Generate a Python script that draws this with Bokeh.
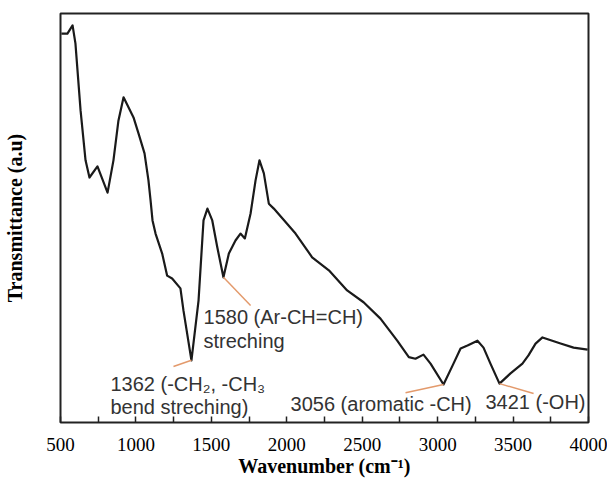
from bokeh.plotting import figure
from bokeh.models import FixedTicker, Label, Range1d
from bokeh.embed import file_html
from bokeh.resources import INLINE

# Spectrum (wavenumber cm^-1, transmittance a.u.)
wavenumber = [506, 546, 580, 599, 633, 666, 692, 745, 812, 851, 884, 918, 984, 1017,
              1057, 1083, 1097, 1110, 1130, 1174, 1207, 1240, 1295, 1315, 1368, 1415,
              1448, 1474, 1506, 1539, 1580, 1616, 1660, 1693, 1722, 1760, 1793, 1819,
              1848, 1881, 1914, 2058, 2168, 2279, 2400, 2509, 2621, 2732, 2809, 2853,
              2906, 2953, 3039, 3105, 3152, 3198, 3264, 3304, 3350, 3410, 3483, 3562,
              3602, 3649, 3695, 3815, 3901, 3994]
transmittance = [95.1, 95.1, 97.1, 92.7, 76.3, 64.1, 59.9, 62.6, 56.2, 64.1, 73.8, 79.5,
                 74.6, 70.7, 65.8, 59.2, 54.3, 49.4, 46.2, 41.3, 35.9, 35.2, 32.8, 27.4,
                 15.2, 29.8, 49.4, 52.3, 49.4, 42.9, 35.5, 41.3, 44.5, 46.2, 45.0, 51.1,
                 59.2, 64.1, 60.9, 53.5, 52.3, 46.2, 40.4, 37.2, 32.3, 29.4, 25.4, 20.0,
                 16.0, 15.6, 16.6, 14.4, 9.3, 14.4, 18.1, 18.8, 20.0, 18.3, 14.4, 9.5,
                 12.0, 14.4, 16.4, 19.3, 20.8, 19.3, 18.3, 17.8]

x_ticks = [500, 1000, 1500, 2000, 2500, 3000, 3500, 4000]
x_minor = [750, 1250, 1750, 2250, 2750, 3250, 3750]

# annotations: (band minimum wn, y) and labels
ann_band_x = [1368, 1580, 3039, 3410]
ann_band_y = [15.2, 35.5, 9.3, 9.5]
ann_end_x = [1249, 1760, 2787, 3636]
ann_end_y = [13.7, 28.6, 7.3, 7.1]

p = figure(width=607, height=479, output_backend="svg", toolbar_location=None,
           x_range=Range1d(500, 4000), y_range=Range1d(0, 100),
           min_border_left=60, min_border_right=19, min_border_top=13,
           min_border_bottom=57, y_axis_location="left")
p.grid.visible = False
p.background_fill_color = "white"
p.border_fill_color = "white"
p.outline_line_color = "#222222"
p.outline_line_width = 2

# spectrum
p.line(wavenumber, transmittance, line_color="#1a1a1a", line_width=2.2,
       line_join="round")

# annotation leader lines
for bx, by, ex, ey in zip(ann_band_x, ann_band_y, ann_end_x, ann_end_y):
    p.line([bx, ex], [by, ey], line_color="#e39a6c", line_width=1.5)

font = "Liberation Sans"
fs = "20px"
col = "#333333"
texts = [
    (831, 9.5, "1362 (-CH\u2082, -CH\u2083"),
    (831, 3.7, "bend streching)"),
    (1448, 25.7, "1580 (Ar-CH=CH)"),
    (1448, 20.0, "streching"),
    (2025, 4.6, "3056 (aromatic -CH)"),
    (3317, 4.9, "3421 (-OH)"),
]
for tx, ty, t in texts:
    p.add_layout(Label(x=tx, y=ty, text=t, text_font=font, text_font_size=fs,
                       text_color=col, text_align="left", text_baseline="middle"))

# x axis
xa = p.xaxis[0]
xa.ticker = FixedTicker(ticks=x_ticks, minor_ticks=x_minor)
xa.axis_line_color = None
xa.major_tick_in = 6
xa.major_tick_out = 0
xa.minor_tick_in = 6
xa.minor_tick_out = 0
xa.major_tick_line_color = "#222222"
xa.minor_tick_line_color = "#222222"
xa.major_tick_line_width = 1.5
xa.minor_tick_line_width = 1.5
xa.major_label_text_font = "Liberation Serif"
xa.major_label_text_font_size = "19px"
xa.major_label_text_color = "black"
xa.major_label_standoff = 15
xa.axis_label = "Wavenumber (cm\u207b\u00b9)"
xa.axis_label_text_font = "Liberation Serif"
xa.axis_label_text_font_size = "20px"
xa.axis_label_text_font_style = "bold"
xa.axis_label_text_color = "black"
xa.axis_label_standoff = 1

# y axis
ya = p.yaxis[0]
ya.ticker = FixedTicker(ticks=[])
ya.axis_line_color = None
ya.major_tick_in = 0
ya.major_tick_out = 0
ya.minor_tick_in = 0
ya.minor_tick_out = 0
ya.axis_label = "Transmittance (a.u)"
ya.axis_label_text_font = "Liberation Serif"
ya.axis_label_text_font_size = "20px"
ya.axis_label_text_font_style = "bold"
ya.axis_label_text_color = "black"
ya.axis_label_standoff = 35

open("out.html", "w").write(file_html(p, INLINE))
